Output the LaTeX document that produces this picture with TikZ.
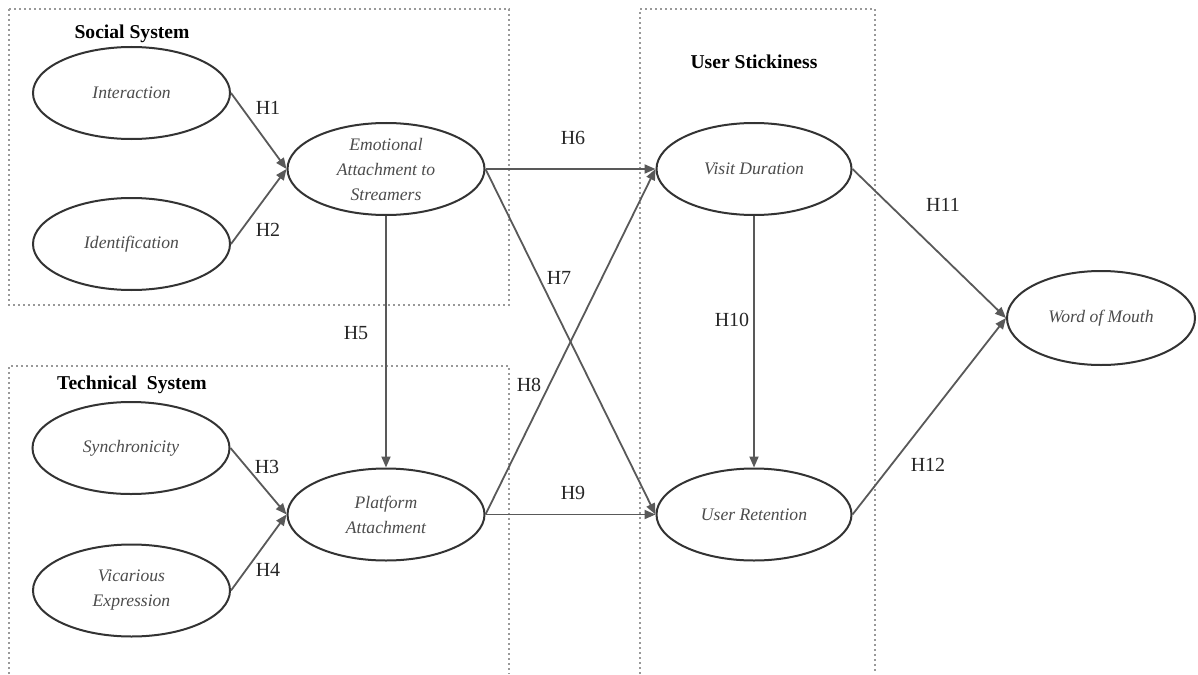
\documentclass[tikz,border=0pt]{standalone}
\usepackage{fontspec}
\setmainfont{Liberation Serif}
\usetikzlibrary{shapes.geometric,arrows.meta}
\begin{document}
\begin{tikzpicture}[x=0.5pt,y=-0.5pt,
  latent/.style={ellipse,draw=black!80,line width=1pt,minimum width=98.5pt,minimum height=46pt,inner sep=0pt,align=center,font=\fontsize{8.8}{12.5}\selectfont\itshape,text=black!70},
  hyp/.style={font=\fontsize{10}{12}\selectfont,text=black!85,inner sep=0pt},
  grouptitle/.style={font=\fontsize{9.8}{12}\selectfont\bfseries,inner sep=0pt},
  groupbox/.style={draw=black!40,line width=1pt,dash pattern=on 1pt off 1.5pt},
  link/.style={draw=black!65,line width=0.9pt,-{Triangle[length=5.5pt,width=4.5pt]}}]
\useasboundingbox (0,0) rectangle (1198,674);
\fill[white] (0,0) rectangle (1198,674);
% group boxes
\draw[groupbox] (9,9) rectangle (509,305);
\draw[groupbox] (9,674) -- (9,366) -- (509,366) -- (509,674);
\draw[groupbox] (640,674) -- (640,9) -- (875,9) -- (875,674);
% group titles
\node[grouptitle] (tsoc) at (132,34) {Social System};
\node[grouptitle] (ttec) at (132,385) {Technical\ \ System};
\node[grouptitle] (tusr) at (754,62) {User Stickiness};
% constructs
\node[latent] (inter) at (131.5,93) {Interaction};
\node[latent] (ident) at (131.5,244) {Identification};
\node[latent] (emo) at (386,169) {Emotional\\Attachment to\\Streamers};
\node[latent] (sync) at (131,448) {Synchronicity};
\node[latent] (vic) at (131.5,590.5) {Vicarious\\Expression};
\node[latent] (plat) at (386,514.5) {Platform\\Attachment};
\node[latent,minimum width=97.5pt] (visit) at (754,169) {Visit Duration};
\node[latent,minimum width=97.5pt] (ret) at (754,514.5) {User Retention};
\node[latent,minimum width=94pt,minimum height=47pt] (wom) at (1101,318) {Word of Mouth};
% paths
\draw[link] (inter.east) -- (emo.west);
\draw[link] (ident.east) -- (emo.west);
\draw[link] (sync.east) -- (plat.west);
\draw[link] (vic.east) -- (plat.west);
\draw[link] (emo.south) -- (plat.north);
\draw[link] (emo.east) -- (visit.west);
\draw[link] (emo.east) -- (ret.west);
\draw[link] (plat.east) -- (visit.west);
\draw[link] (plat.east) -- (ret.west);
\draw[link] (visit.south) -- (ret.north);
\draw[link] (visit.east) -- (wom.west);
\draw[link] (ret.east) -- (wom.west);
% hypothesis labels
\node[hyp] (h1) at (268,108) {H1};
\node[hyp] (h2) at (268,230) {H2};
\node[hyp] (h3) at (267,467) {H3};
\node[hyp] (h4) at (268,570) {H4};
\node[hyp] (h5) at (356,333) {H5};
\node[hyp] (h6) at (573,138) {H6};
\node[hyp] (h7) at (559,278) {H7};
\node[hyp] (h8) at (529,385) {H8};
\node[hyp] (h9) at (573,493) {H9};
\node[hyp] (h10) at (732,320) {H10};
\node[hyp] (h11) at (943,205) {H11};
\node[hyp] (h12) at (928,465) {H12};
\end{tikzpicture}
\end{document}
